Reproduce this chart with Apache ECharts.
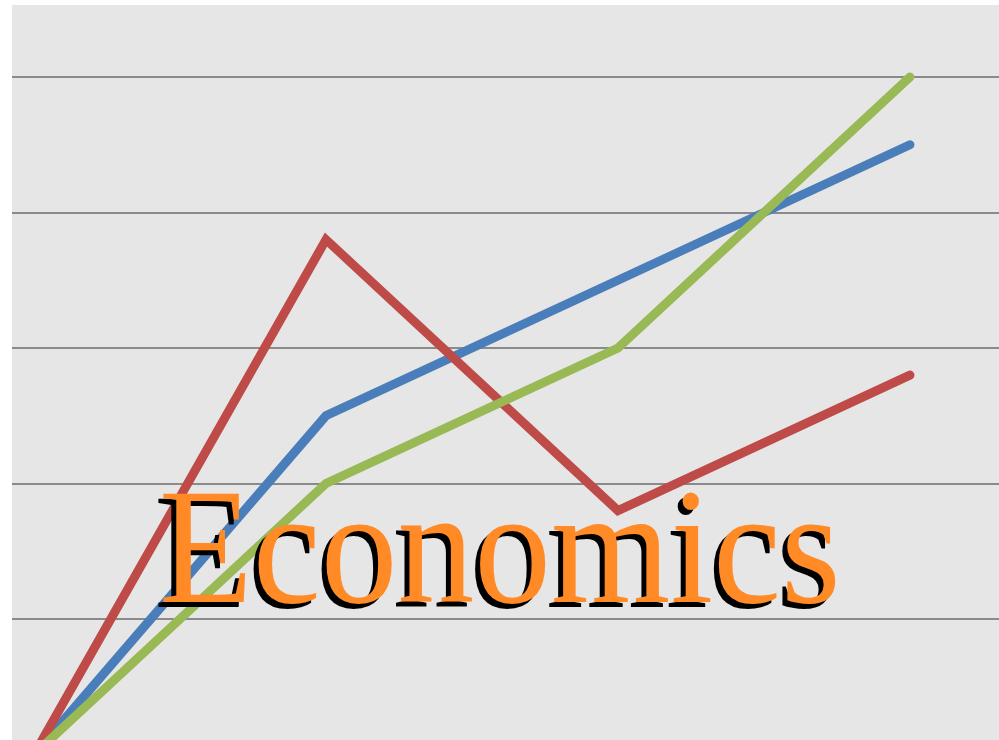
<!DOCTYPE html>
<html>
<head>
<meta charset="utf-8">
<script src="https://cdn.jsdelivr.net/npm/echarts@6/dist/echarts.min.js"></script>
<style>html,body{margin:0;padding:0;background:#fff;}#c{width:999px;height:740px;}</style>
</head>
<body>
<div id="c"></div>
<script>
const categories = ['1', '2', '3', '4'];
const blueValues = [0, 2.5, 3.5, 4.5];
const redValues = [0, 3.8, 1.8, 2.8];
const greenValues = [0, 2.0, 3.0, 5.0];
const titleText = 'Economics';

const toPairs = vals => categories.map((c, i) => [i, vals[i]]);

const chart = echarts.init(document.getElementById('c'));
const lineBase = { type: 'line', showSymbol: false, symbol: 'none', animation: false, silent: true, clip: true };
chart.setOption({
  backgroundColor: '#e6e6e6',
  animation: false,
  grid: { left: 12, right: 0, top: 0, bottom: 0, containLabel: false },
  xAxis: {
    type: 'value', min: -0.0753, max: 3.305,
    axisLine: { show: false }, axisTick: { show: false }, axisLabel: { show: false }, splitLine: { show: false }
  },
  yAxis: {
    type: 'value', min: 0.107, max: 5.568, minInterval: 1, maxInterval: 1,
    axisLine: { show: false }, axisTick: { show: false }, axisLabel: { show: false },
    splitLine: { show: true, showMinLine: false, showMaxLine: false, lineStyle: { color: '#8a8a8a', width: 2 } }
  },
  series: [
    Object.assign({}, lineBase, { name: 'blue', data: toPairs(blueValues), lineStyle: { color: '#4a7ebb', width: 9, cap: 'round', join: 'miter' }, z: 2 }),
    Object.assign({}, lineBase, { name: 'red', data: toPairs(redValues), lineStyle: { color: '#be4b48', width: 9, cap: 'round', join: 'miter' }, z: 3 }),
    Object.assign({}, lineBase, { name: 'green', data: toPairs(greenValues), lineStyle: { color: '#98b954', width: 9, cap: 'round', join: 'miter' }, z: 4 })
  ],
  graphic: [
    { type: 'rect', shape: { x: 0, y: 0, width: 12, height: 740 }, style: { fill: '#ffffff' }, z: 100 },
    { type: 'rect', shape: { x: 0, y: 0, width: 999, height: 5 }, style: { fill: '#ffffff' }, z: 100 },
    { type: 'text', x: 154, y: 481, scaleX: 0.93, z: 110,
      style: { x: 0, y: 0, text: titleText, fill: '#000000', font: '165px "Liberation Serif"', align: 'left', verticalAlign: 'top' } },
    { type: 'text', x: 159, y: 476, scaleX: 0.93, z: 111,
      style: { x: 0, y: 0, text: titleText, fill: '#ff8a26', font: '165px "Liberation Serif"', align: 'left', verticalAlign: 'top' } }
  ]
});
</script>
</body>
</html>
